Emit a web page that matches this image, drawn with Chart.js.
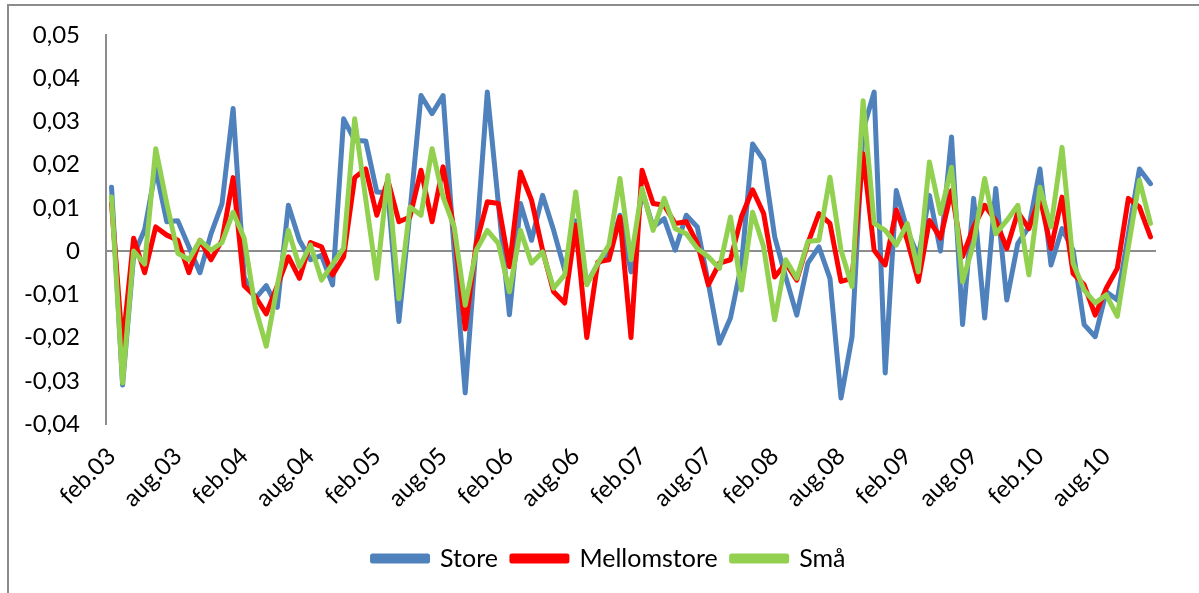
<!DOCTYPE html>
<html>
<head>
<meta charset="utf-8">
<script src="https://cdn.jsdelivr.net/npm/chart.js@4/dist/chart.umd.min.js"></script>
<style>
  body { margin: 0; background: #fff; }
  #wrap { position: relative; width: 1199px; height: 593px; overflow: hidden; }
  #frame { position: absolute; left: 7px; top: 4px; width: 1300px; height: 700px; border: 2px solid #8c8c8c; }
  canvas { position: absolute; left: 0; top: 0; }
</style>
</head>
<body>
<div id="wrap">
  <div id="frame"></div>
  <canvas id="chart" width="1199" height="593"></canvas>
</div>
<script>
// Kategorier: månedlig, feb.03 - des.10
const maaneder = ['jan', 'feb', 'mar', 'apr', 'mai', 'jun', 'jul', 'aug', 'sep', 'okt', 'nov', 'des'];
const startAar = 2003, startMnd = 1, antall = 95;
const kategorier = [];
for (let i = 0; i < antall; i++) {
  const m = startMnd + i;
  const aar = startAar + Math.floor(m / 12);
  kategorier.push(maaneder[m % 12] + '.' + String(aar % 100).padStart(2, '0'));
}

// Serier
const store = [
  0.0148, -0.031, -0.001, 0.005, 0.019, 0.0068, 0.007, 0.001, -0.005, 0.004,
  0.011, 0.033, -0.006, -0.011, -0.008, -0.013, 0.0106, 0.0025, -0.002, -0.001,
  -0.0078, 0.0306, 0.0256, 0.0255, 0.0137, 0.0135, -0.0163, 0.009, 0.036, 0.0318,
  0.036, 0.0, -0.0328, 0.002, 0.0368, 0.011, -0.0147, 0.011, 0.0025, 0.0129,
  0.0048, -0.0044, 0.007, -0.0075, -0.003, -0.0005, 0.0083, -0.0048, 0.014, 0.0056,
  0.0075, 0.0002, 0.0083, 0.0056, -0.0075, -0.0213, -0.0155, -0.003, 0.0248, 0.021,
  0.0033, -0.006, -0.0148, -0.0028, 0.001, -0.0063, -0.034, -0.0198, 0.028, 0.0368,
  -0.0282, 0.014, 0.0048, -0.0013, 0.0129, 0.0, 0.0264, -0.017, 0.0122, -0.0155,
  0.0145, -0.0113, 0.0018, 0.0056, 0.019, -0.0032, 0.0052, 0.0002, -0.017, -0.0198,
  -0.0094, -0.0113, 0.004, 0.019, 0.0156
];
const mellomstore = [
  0.011, -0.022, 0.003, -0.005, 0.0056, 0.0037, 0.0025, -0.005, 0.0025, -0.002,
  0.0025, 0.017, -0.008, -0.0105, -0.0145, -0.008, -0.0013, -0.0063, 0.002, 0.001,
  -0.0055, -0.0013, 0.017, 0.019, 0.0083, 0.0164, 0.0068, 0.0079, 0.0187, 0.0068,
  0.0195, 0.0048, -0.018, 0.0018, 0.0114, 0.011, -0.0036, 0.0183, 0.0118, 0.0002,
  -0.0094, -0.012, 0.006, -0.020, -0.0025, -0.002, 0.0079, -0.020, 0.0187, 0.011,
  0.0106, 0.0064, 0.0068, 0.0018, -0.0078, -0.0028, -0.002, 0.008, 0.0142, 0.0087,
  -0.006, -0.0028, -0.0067, 0.0018, 0.0087, 0.0064, -0.007, -0.0063, 0.0225, 0.0002,
  -0.0032, 0.0095, 0.0025, -0.007, 0.0071, 0.003, 0.014, -0.0013, 0.0056, 0.0106,
  0.0071, 0.0006, 0.009, 0.0052, 0.0125, 0.0006, 0.0125, -0.0052, -0.0078, -0.0148,
  -0.0086, -0.004, 0.0122, 0.0102, 0.0033
];
const smaa = [
  0.0125, -0.0305, 0.0, -0.003, 0.0237, 0.011, -0.0005, -0.002, 0.0025, 0.0002,
  0.002, 0.009, 0.003, -0.013, -0.022, -0.008, 0.0048, -0.0036, 0.0014, -0.0067,
  -0.003, 0.0007, 0.0306, 0.012, -0.0063, 0.0175, -0.011, 0.0102, 0.0083, 0.0237,
  0.0125, 0.0056, -0.0125, 0.0002, 0.0048, 0.0018, -0.0094, 0.0048, -0.0028, -0.0002,
  -0.0086, -0.0055, 0.0137, -0.0078, -0.0028, 0.0014, 0.0168, -0.002, 0.0145, 0.0048,
  0.0122, 0.0052, 0.004, 0.0006, -0.0013, -0.004, 0.0079, -0.009, 0.009, 0.001,
  -0.0159, -0.002, -0.0063, 0.0022, 0.0025, 0.0171, 0.0002, -0.0082, 0.0348, 0.0064,
  0.0048, 0.0014, 0.0064, -0.0048, 0.0206, 0.0087, 0.0194, -0.0071, 0.0018, 0.0168,
  0.004, 0.0071, 0.0106, -0.0055, 0.0148, 0.0056, 0.024, -0.0028, -0.009, -0.012,
  -0.0101, -0.0151, 0.001, 0.0164, 0.0064
];

// Akse
const yMin = -0.04, yMax = 0.05, yStep = 0.01;
const tekstFont = "Lato, 'Open Sans', sans-serif";

function serie(navn, data, farge, rekkefolge) {
  return {
    label: navn,
    data: data,
    borderColor: farge,
    backgroundColor: farge,
    borderWidth: 5,
    pointRadius: 0,
    tension: 0,
    borderJoinStyle: 'round',
    borderCapStyle: 'round',
    order: rekkefolge
  };
}

// legenden står litt til høyre for midten i originalen
const flyttLegende = {
  id: 'flyttLegende',
  afterLayout(chart) {
    chart.legend.left += 27;
    chart.legend.right += 27;
  }
};

const ctx = document.getElementById('chart').getContext('2d');
new Chart(ctx, {
  type: 'line',
  data: {
    labels: kategorier,
    datasets: [
      serie('Store', store, '#4f81bd', 3),
      serie('Mellomstore', mellomstore, '#ff0000', 2),
      serie('Små', smaa, '#92d050', 1)
    ]
  },
  plugins: [flyttLegende],
  options: {
    responsive: false,
    animation: false,
    layout: { padding: { left: 8, top: 35, right: 43, bottom: 12 } },
    plugins: {
      tooltip: { enabled: false },
      legend: {
        position: 'bottom',
        labels: {
          color: '#000',
          font: { family: tekstFont, size: 25 },
          boxWidth: 55,
          boxHeight: 5,
          padding: 14,
          sort: (a, b) => a.datasetIndex - b.datasetIndex
        }
      }
    },
    scales: {
      x: {
        offset: true,
        grid: { display: false, drawTicks: false },
        border: { display: false },
        ticks: {
          autoSkip: false,
          minRotation: 45,
          maxRotation: 45,
          padding: 18,
          color: '#000',
          font: { family: tekstFont, size: 24 },
          callback: function (v, i) { return i % 6 === 0 ? kategorier[i] : ''; }
        },
        afterFit: (s) => { s.height = 108; }
      },
      y: {
        min: yMin,
        max: yMax,
        grid: {
          drawTicks: false,
          lineWidth: 2,
          color: (c) => (Math.abs(c.tick.value) < 1e-9 ? '#8c8c8c' : 'rgba(0,0,0,0)')
        },
        border: { display: true, color: '#8c8c8c', width: 2 },
        ticks: {
          stepSize: yStep,
          padding: 26,
          color: '#000',
          font: { family: tekstFont, size: 24 },
          callback: (v) => {
            const r = Math.round(v * 100) / 100;
            return r === 0 ? '0' : r.toFixed(2).replace('.', ',');
          }
        },
        // tick-padding skal ikke skyve plottet ned
        afterFit: (s) => { s.width = 98; s.paddingTop = 0; s.paddingBottom = 0; }
      }
    }
  }
});
</script>
</body>
</html>
